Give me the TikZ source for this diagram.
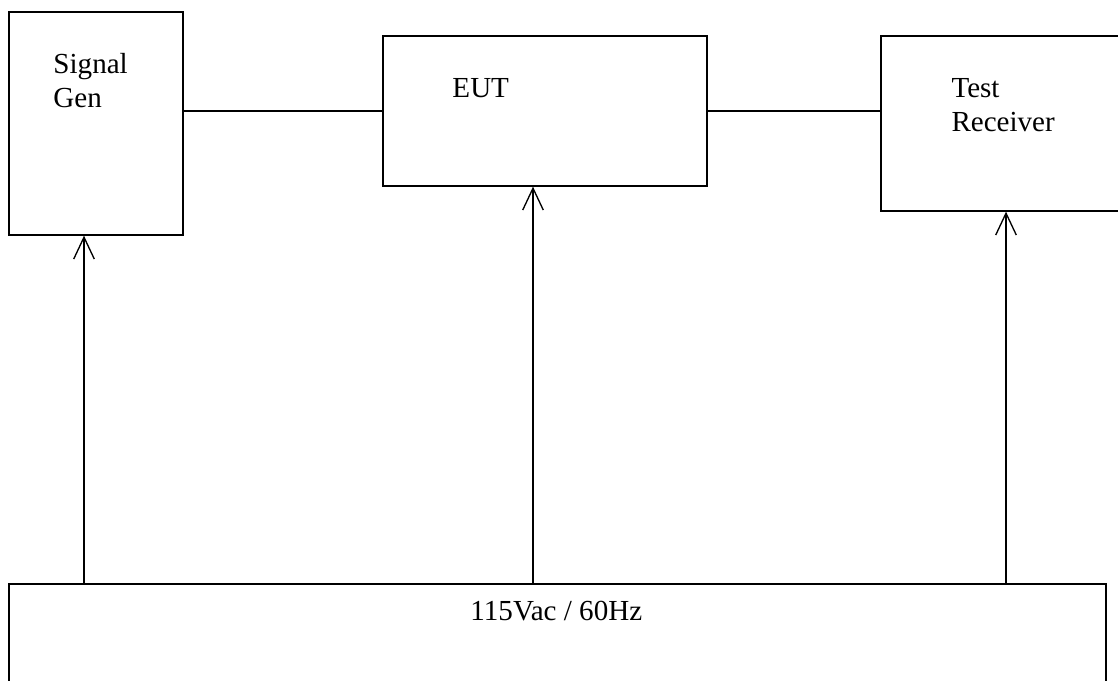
\documentclass[tikz,border=0pt]{standalone}
\usepackage{fontspec}
\setmainfont{Liberation Serif}
\usetikzlibrary{arrows.meta,fit}

\begin{document}
\begin{tikzpicture}[x=0.4128pt, y=-0.4128pt,
    box/.style={draw, line width=0.55pt, inner sep=0pt},
    lbl/.style={inner sep=0pt, anchor=north west, align=left, font=\fontsize{12}{13.9}\selectfont},
    feed/.style={line width=0.55pt, -{Straight Barb[length=9pt, width=8.5pt]}}]
    \useasboundingbox (0,0) rectangle (1118,681);
    \clip (0,0) rectangle (1118,681);

    % Instrument boxes
    \node[box, fit={(9,12) (183,235)}] (gen) {};
    \node[box, fit={(383,36) (707,186)}] (eut) {};
    \node[box, fit={(881,36) (1130,211)}] (rcv) {};

    % Mains supply box (runs off the page)
    \node[box, fit={(9,584) (1106,700)}] (mains) {};

    % Labels
    \node[lbl] (gentxt) at (53,53) {Signal\\Gen};
    \node[lbl] (euttxt) at (452,78) {EUT};
    \node[lbl] (rcvtxt) at (951,78) {Test\\Receiver};
    \node[lbl] (mainstxt) at (470,601) {115Vac / 60Hz};

    % Signal path
    \draw[line width=0.55pt] (eut.west) -- (eut.west -| gen.east);
    \draw[line width=0.55pt] (eut.east) -- (eut.east -| rcv.west);

    % Power feeds
    \coordinate (genin) at (84,0);
    \coordinate (eutin) at (533,0);
    \coordinate (rcvin) at (1006,0);
    \draw[feed] (mains.north -| genin) -- (gen.south -| genin);
    \draw[feed] (mains.north -| eutin) -- (eut.south -| eutin);
    \draw[feed] (mains.north -| rcvin) -- (rcv.south -| rcvin);
\end{tikzpicture}
\end{document}
